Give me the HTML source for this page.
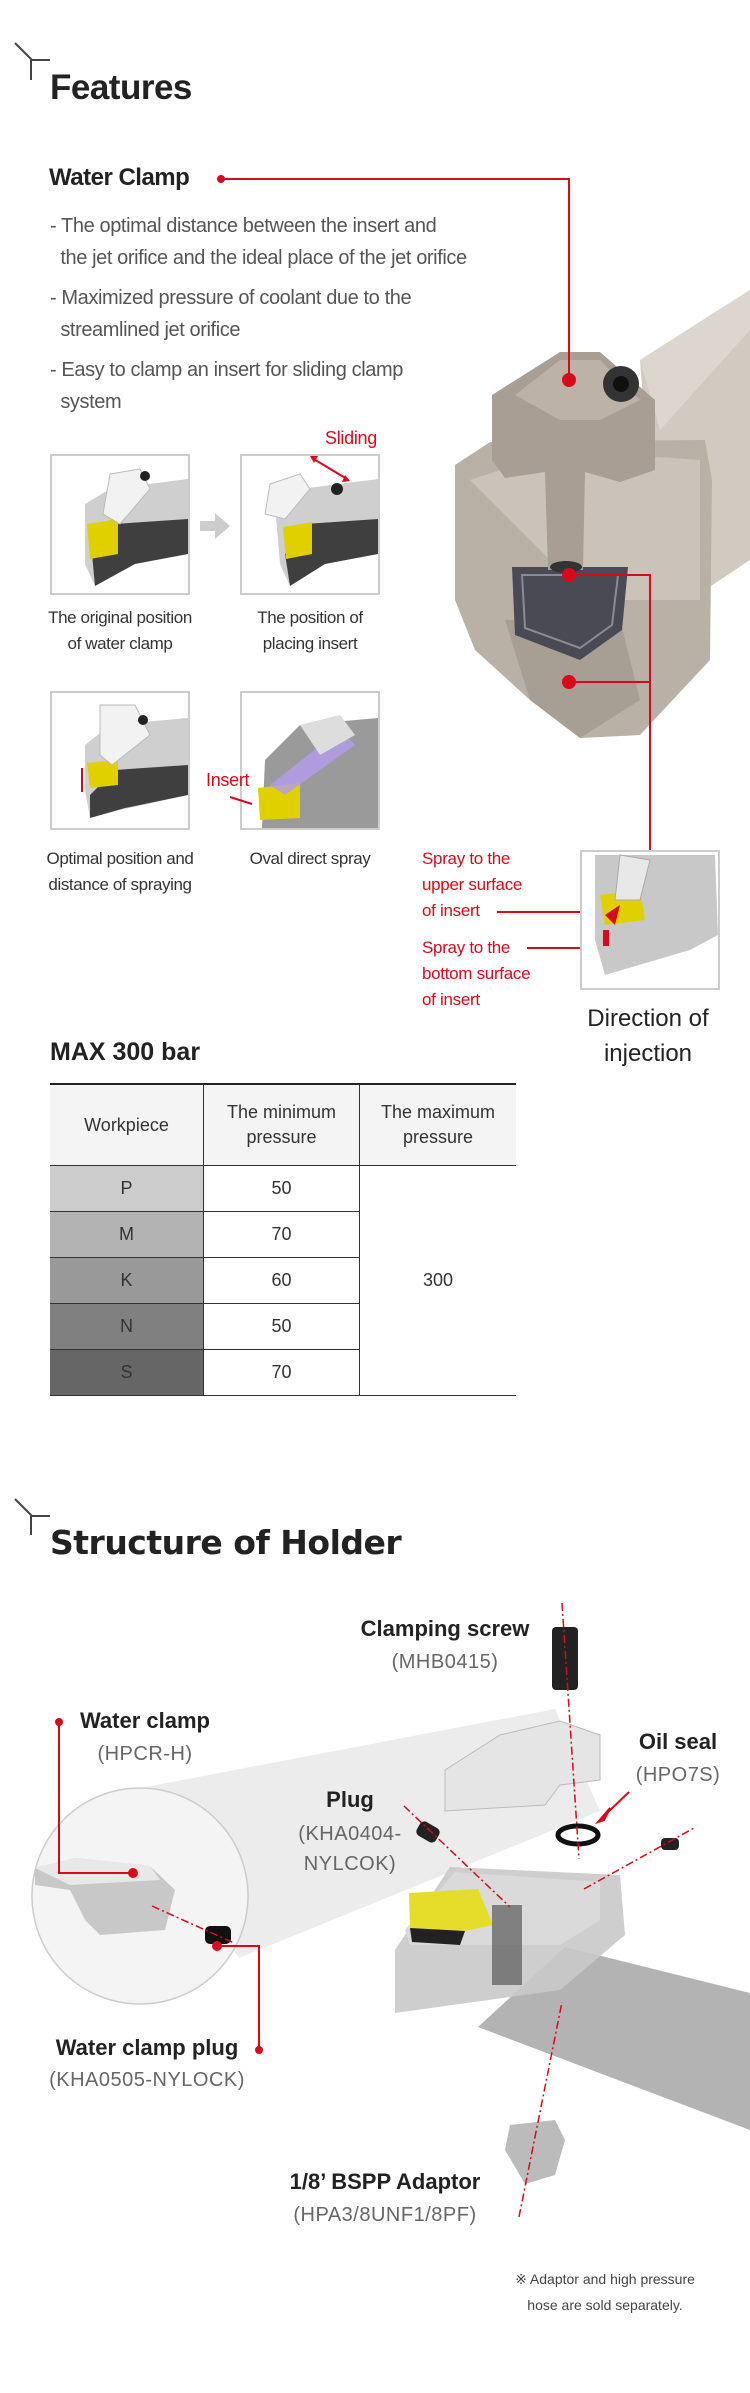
<!DOCTYPE html>
<html><head><meta charset="utf-8">
<style>
body{margin:0;background:#fff;}
#p{position:relative;width:750px;height:2393px;overflow:hidden;font-family:"Liberation Sans",sans-serif;}
.t{position:absolute;white-space:nowrap;}
.h1{font-size:35px;font-weight:bold;color:#222;letter-spacing:-0.5px;}
.b{font-size:20px;color:#555;line-height:32px;letter-spacing:-0.4px;}
.cap{font-size:17px;color:#333;text-align:center;line-height:26px;letter-spacing:-0.4px;}
.red{color:#d9091a;font-size:17px;line-height:26px;letter-spacing:-0.3px;}
table{position:absolute;left:50px;top:1083px;width:466px;border-collapse:collapse;font-size:18px;color:#333;}
td{text-align:center;border-bottom:1px solid #333;height:45px;padding:0;}
.sl{font-weight:bold;color:#222;font-size:22px;text-align:center;line-height:26px;}
.sg{color:#666;font-size:20px;text-align:center;line-height:26px;letter-spacing:0.5px;}
</style></head><body><div id="p">
<svg width="750" height="2393" style="position:absolute;left:0;top:0">
<g stroke="#444" stroke-width="2" fill="none">
<path d="M15,43 L32,60 M31,60 L50,60 M31,60 L31,80"/>
<path d="M15,1499 L32,1516 M31,1516 L50,1516 M31,1516 L31,1535"/>
</g>
<polygon points="640,360 750,290 750,560 660,620" fill="#d2cac1"/>
<polygon points="640,360 750,290 750,330 660,430" fill="#ddd6ce"/>
<polygon points="455,465 490,442 705,440 712,480 710,660 640,735 580,738 530,700 475,650 455,600" fill="#b9b0a6"/>
<polygon points="470,480 560,450 700,460 700,600 590,600" fill="#cbc3b9"/>
<polygon points="505,620 620,620 640,700 580,738 530,700" fill="#a79e94"/>
<polygon points="512,567 628,567 622,630 580,660 515,635" fill="#4a4a55"/>
<polygon points="522,575 618,575 612,625 580,648 525,628" fill="none" stroke="#8a8a98" stroke-width="2"/>
<path d="M492,395 L560,352 L600,352 L655,400 L655,470 L620,482 L585,472 L583,570 L548,570 L545,472 L505,478 L492,460 Z" fill="#a89e94"/>
<polygon points="515,395 560,360 600,360 640,400 600,420 560,420" fill="#bcb2a8"/>
<circle cx="621" cy="384" r="18" fill="#333"/><circle cx="621" cy="384" r="8" fill="#111"/>
<ellipse cx="566" cy="567" rx="16" ry="6" fill="#333"/>
<g stroke="#d9091a" stroke-width="2" fill="none">
<path d="M221,179 L569,179 L569,380"/>
<path d="M569,575 L650,575 L650,858"/>
<path d="M569,682 L650,682"/>
<path d="M497,912 L592,912"/>
<path d="M527,948 L592,948"/>
</g>
<g fill="#d9091a"><circle cx="221" cy="179" r="4"/><circle cx="569" cy="380" r="7"/><circle cx="569" cy="575" r="7"/><circle cx="569" cy="682" r="7"/><circle cx="650" cy="858" r="4"/><circle cx="592" cy="912" r="4"/><circle cx="592" cy="948" r="4"/></g>
<g fill="#fff" stroke="#ccc" stroke-width="2">
<rect x="51" y="455" width="138" height="139"/><rect x="241" y="455" width="138" height="139"/>
<rect x="51" y="692" width="138" height="137"/><rect x="241" y="692" width="138" height="137"/>
<rect x="581" y="851" width="138" height="138"/>
</g>
<g transform="translate(0,-36)">
<polygon points="85,540 110,525 188,515 188,585 120,600 95,622 85,600" fill="#cfcfcf"/>
<polygon points="115,560 188,555 188,590 135,600 95,622 92,590" fill="#3f3f3f"/>
<polygon points="87,560 118,555 118,590 90,595" fill="#e0d000"/>
<path d="M110,510 L140,505 L150,525 L120,560 L103,550 Z" fill="#f2f2f2" stroke="#bbb"/>
<circle cx="145" cy="512" r="5" fill="#222"/>
<polygon points="200,557 215,557 215,549 230,562 215,575 215,567 200,567" fill="#ccc"/>
<polygon points="275,540 300,525 378,515 378,585 310,600 290,622 280,600" fill="#cfcfcf"/>
<polygon points="305,560 378,555 378,590 325,600 290,622 285,590" fill="#3f3f3f"/>
<polygon points="283,563 312,558 312,590 286,595" fill="#e0d000"/>
<path d="M270,520 L300,510 L310,525 L285,555 L265,550 Z" fill="#f2f2f2" stroke="#bbb"/>
<circle cx="337" cy="525" r="6" fill="#222"/>
<line x1="312" y1="494" x2="347" y2="515" stroke="#d9091a" stroke-width="2"/>
<polygon points="310,492 318,492 314,499" fill="#d9091a"/><polygon points="350,517 342,518 345,511" fill="#d9091a"/>
</g>
<polygon points="85,745 110,725 188,718 188,795 120,810 90,818 85,790" fill="#cfcfcf"/>
<polygon points="115,770 188,765 188,795 125,808 90,818 90,795" fill="#3f3f3f"/>
<polygon points="87,763 118,760 118,785 90,788" fill="#e0d000"/>
<path d="M100,705 L135,705 L150,735 L112,765 L100,755 Z" fill="#f2f2f2" stroke="#bbb"/>
<circle cx="143" cy="720" r="5" fill="#222"/>
<line x1="82" y1="768" x2="82" y2="792" stroke="#d9091a" stroke-width="2"/>
<polygon points="265,760 300,725 378,718 378,828 262,828" fill="#9a9a9a"/>
<polygon points="258,788 300,783 300,818 260,820" fill="#e0d000"/>
<polygon points="270,785 340,730 355,745 285,795" fill="#b39cf0" opacity="0.8"/>
<path d="M300,725 L340,715 L355,735 L320,755 Z" fill="#ddd"/>
<line x1="230" y1="797" x2="252" y2="804" stroke="#d9091a" stroke-width="2"/>
<polygon points="595,855 715,855 718,935 690,950 605,975 595,940" fill="#c8c8c8"/>
<polygon points="600,895 640,890 645,920 605,925" fill="#e0d000"/>
<path d="M620,855 L650,860 L640,900 L615,900 Z" fill="#e8e8e8" stroke="#aaa"/>
<polygon points="605,915 620,905 615,925" fill="#d9091a"/>
<rect x="603" y="930" width="6" height="16" fill="#d9091a"/>
<!-- structure -->
<polygon points="130,1790 555,1709 600,1811 239,1958" fill="#ececec"/>
<circle cx="140" cy="1896" r="108" fill="#f4f4f4" stroke="#ccc" stroke-width="1.5"/>
<path d="M35,1868 L75,1858 L150,1866 L175,1890 L165,1930 L100,1935 L85,1920 L70,1890 L35,1885 Z" fill="#c8c8c8"/>
<path d="M35,1868 L75,1858 L150,1866 L160,1880 L70,1885 Z" fill="#e8e8e8"/>
<rect x="205" y="1926" width="26" height="18" rx="5" fill="#111"/>
<polygon points="565,1947 750,1993 750,2130 478,2027" fill="#b3b3b3"/>
<polygon points="395,1950 450,1867 620,1875 625,1935 560,1990 395,2013" fill="#c9c9c9" opacity="0.9"/>
<polygon points="405,1930 455,1872 600,1882 600,1920 560,1945 410,1945" fill="#dadada"/>
<polygon points="409,1893 478,1889 493,1925 465,1931 410,1928" fill="#e6dc2a"/>
<polygon points="410,1928 465,1931 460,1945 412,1942" fill="#222"/>
<rect x="492" y="1905" width="30" height="80" fill="#5a5a5a" opacity="0.7"/>
<path d="M445,1770 L500,1735 L560,1721 L600,1735 L600,1780 L560,1785 L545,1805 L445,1811 Z" fill="#e5e5e5" stroke="#bbb"/>
<rect x="552" y="1627" width="26" height="63" rx="4" fill="#222"/>
<ellipse cx="578" cy="1835" rx="20" ry="9" fill="none" stroke="#111" stroke-width="5"/>
<rect x="417" y="1824" width="22" height="16" rx="5" fill="#222" transform="rotate(30 428 1832)"/>
<rect x="661" y="1838" width="18" height="12" rx="4" fill="#222"/>
<polygon points="510,2125 555,2120 565,2140 555,2175 525,2184 505,2150" fill="#bbb"/>
<g stroke="#d9091a" stroke-width="1.5" fill="none" stroke-dasharray="8,3,2,3">
<line x1="562" y1="1603" x2="579" y2="1859"/>
<line x1="404" y1="1806" x2="510" y2="1907"/>
<line x1="584" y1="1889" x2="694" y2="1828"/>
<line x1="519" y1="2217" x2="562" y2="2002"/>
<line x1="152" y1="1906" x2="234" y2="1943"/>
</g>
<g stroke="#d9091a" stroke-width="2" fill="none">
<path d="M59,1722 L59,1873 L133,1873"/>
<path d="M217,1946 L259,1946 L259,2050"/>
<line x1="629" y1="1792" x2="605" y2="1815"/>
</g>
<polygon points="598,1822 610,1808 604,1820" fill="#d9091a" stroke="#d9091a" stroke-width="2"/>
<g fill="#d9091a"><circle cx="59" cy="1722" r="4"/><circle cx="133" cy="1873" r="5"/><circle cx="217" cy="1946" r="5"/><circle cx="259" cy="2050" r="4"/></g>
</svg>

<div class="t h1" style="left:50px;top:68px">Features</div>
<div class="t" style="left:49px;top:164px;font-size:24px;font-weight:bold;color:#222;letter-spacing:-0.5px">Water Clamp</div>
<div class="t b" style="left:50px;top:210px">- The optimal distance between the insert and<br>&nbsp;&nbsp;the jet orifice and the ideal place of the jet orifice</div>
<div class="t b" style="left:50px;top:282px">- Maximized pressure of coolant due to the<br>&nbsp;&nbsp;streamlined jet orifice</div>
<div class="t b" style="left:50px;top:354px">- Easy to clamp an insert for sliding clamp<br>&nbsp;&nbsp;system</div>
<div class="t red" style="left:325px;top:425px;font-size:18px">Sliding</div>
<div class="t cap" style="left:20px;top:605px;width:200px">The original position<br>of water clamp</div>
<div class="t cap" style="left:210px;top:605px;width:200px">The position of<br>placing insert</div>
<div class="t red" style="left:206px;top:767px;font-size:18px">Insert</div>
<div class="t cap" style="left:20px;top:846px;width:200px">Optimal position and<br>distance of spraying</div>
<div class="t cap" style="left:210px;top:846px;width:200px">Oval direct spray</div>
<div class="t red" style="left:422px;top:846px">Spray to the<br>upper surface<br>of insert</div>
<div class="t red" style="left:422px;top:935px">Spray to the<br>bottom surface<br>of insert</div>
<div class="t" style="left:568px;top:1001px;width:160px;text-align:center;font-size:24px;line-height:35px;color:#222">Direction of<br>injection</div>
<div class="t" style="left:50px;top:1038px;font-size:25px;font-weight:bold;color:#222">MAX 300 bar</div>
<table>
<tr style="background:#f4f4f4;border-top:2px solid #222"><td style="width:153px;height:80px;border-right:1px solid #333;border-bottom:1px solid #333">Workpiece</td><td style="width:155px;border-right:1px solid #333;line-height:25px">The minimum<br>pressure</td><td style="line-height:25px">The maximum<br>pressure</td></tr>
<tr><td style="background:#ccc;border-right:1px solid #333">P</td><td style="border-right:1px solid #333">50</td><td rowspan="5">300</td></tr>
<tr><td style="background:#b3b3b3;border-right:1px solid #333">M</td><td style="border-right:1px solid #333">70</td></tr>
<tr><td style="background:#999;border-right:1px solid #333">K</td><td style="border-right:1px solid #333">60</td></tr>
<tr><td style="background:#808080;border-right:1px solid #333">N</td><td style="border-right:1px solid #333">50</td></tr>
<tr><td style="background:#666;border-right:1px solid #333">S</td><td style="border-right:1px solid #333">70</td></tr>
</table>

<div class="t" style="left:50px;top:1523px;font-size:33px;font-weight:bold;color:#222;font-family:'DejaVu Sans',sans-serif;letter-spacing:-0.5px">Structure of Holder</div>
<div class="t sl" style="left:345px;top:1616px;width:200px">Clamping screw</div>
<div class="t sg" style="left:345px;top:1649px;width:200px">(MHB0415)</div>
<div class="t sl" style="left:45px;top:1708px;width:200px">Water clamp</div>
<div class="t sg" style="left:45px;top:1741px;width:200px">(HPCR-H)</div>
<div class="t sl" style="left:270px;top:1787px;width:160px">Plug</div>
<div class="t sg" style="left:270px;top:1819px;width:160px;line-height:30px">(KHA0404-<br>NYLCOK)</div>
<div class="t sl" style="left:608px;top:1729px;width:140px">Oil seal</div>
<div class="t sg" style="left:608px;top:1762px;width:140px">(HPO7S)</div>
<div class="t sl" style="left:37px;top:2035px;width:220px">Water clamp plug</div>
<div class="t sg" style="left:37px;top:2067px;width:220px">(KHA0505-NYLOCK)</div>
<div class="t sl" style="left:270px;top:2169px;width:230px">1/8’ BSPP Adaptor</div>
<div class="t sg" style="left:270px;top:2202px;width:230px">(HPA3/8UNF1/8PF)</div>
<div class="t" style="left:480px;top:2266px;width:250px;text-align:center;font-size:14px;line-height:26px;color:#444">※ Adaptor and high pressure<br>hose are sold separately.</div>
</div></body></html>
